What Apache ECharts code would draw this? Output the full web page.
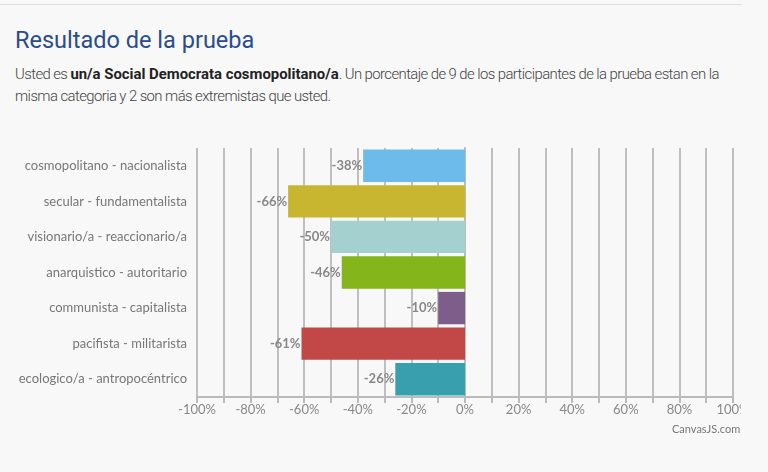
<!DOCTYPE html>
<html>
<head>
<meta charset="utf-8">
<script src="https://cdn.jsdelivr.net/npm/echarts@6/dist/echarts.min.js"></script>
<style>
    html, body { margin: 0; padding: 0; background: #f8f8f8; }
    #page { position: relative; width: 768px; height: 472px; overflow: hidden; }
    #rule { position: absolute; left: 0; top: 4px; width: 742px; height: 1px; background: #dedede; }
    #head { position: absolute; left: 15px; top: 25px; width: 760px; transform: scaleX(0.96); transform-origin: 0 0; font-family: Roboto, sans-serif; }
    #head h1 { margin: 0; font-size: 24.5px; font-weight: 400; color: #2b4c8c; line-height: 30px; }
    #head p { margin: 8px 0 0 0; font-size: 15.5px; font-weight: 300; color: #444; line-height: 22px; width: 760px; letter-spacing: -0.6px; }
    #head b { color: #222; font-weight: 700; letter-spacing: 0; }
    #chart { position: absolute; left: 0; top: 0; width: 741px; height: 472px; }
</style>
</head>
<body>
<div id="page">
    <div id="rule"></div>
    <div id="head">
        <h1>Resultado de la prueba</h1>
        <p>Usted es <b>un/a Social Democrata cosmopolitano/a</b>. Un porcentaje de 9 de los participantes de la prueba estan en la misma categoria y 2 son más extremistas que usted.</p>
    </div>
    <div id="chart"></div>
</div>
<script>
    // ejes y valores
    var categorias = ['cosmopolitano - nacionalista', 'secular - fundamentalista', 'visionario/a - reaccionario/a',
        'anarquistico - autoritario', 'communista - capitalista', 'pacifista - militarista', 'ecologico/a - antropocéntrico'];
    var valores = [-38, -66, -50, -46, -10, -61, -26];
    var colores = ['#6cbbea', '#c8b631', '#a4d1d0', '#84b51b', '#7f5d8a', '#c24848', '#379fad'];
    var ticksX = [-100, -80, -60, -40, -20, 0, 20, 40, 60, 80, 100];

    var chart = echarts.init(document.getElementById('chart'));

    var option = {
        animation: false,
        textStyle: { fontFamily: 'Lato, sans-serif' },
        grid: { left: 197, right: 8, top: 148, bottom: 75, containLabel: false, outerBoundsMode: 'none' },
        xAxis: {
            type: 'value',
            min: -100,
            max: 100,
            interval: 10,
            axisLine: { show: true, lineStyle: { color: '#bbbbbb', width: 2 } },
            axisTick: { show: true, length: 6, lineStyle: { color: '#bbbbbb', width: 2 } },
            splitLine: { show: true, lineStyle: { color: '#bfbfbf', width: 2 } },
            axisLabel: {
                color: '#888',
                fontSize: 13,
                margin: 6,
                hideOverlap: false,
                formatter: function (v) {
                    return ticksX.indexOf(v) >= 0 ? v + '%' : '';
                }
            }
        },
        yAxis: {
            type: 'category',
            inverse: true,
            data: categorias,
            axisLine: { show: true, lineStyle: { color: '#bbbbbb', width: 2 } },
            axisTick: { show: true, alignWithLabel: true, length: 6, lineStyle: { color: '#bbbbbb', width: 2 } },
            axisLabel: { color: '#777', fontSize: 13, margin: 10 }
        },
        series: [{
            type: 'bar',
            barCategoryGap: '9%',
            data: valores.map(function (v, i) {
                return { value: v, itemStyle: { color: colores[i] } };
            }),
            label: {
                show: true,
                position: 'left',
                distance: 1,
                color: '#888',
                fontWeight: 'bold',
                fontSize: 13,
                formatter: function (p) { return p.value + '%'; }
            }
        }],
        graphic: [{
            type: 'text',
            left: 672,
            top: 424,
            style: { text: 'CanvasJS.com', fill: '#777', fontSize: 11, fontFamily: 'Lato, sans-serif' }
        }]
    };

    chart.setOption(option);
</script>
</body>
</html>
